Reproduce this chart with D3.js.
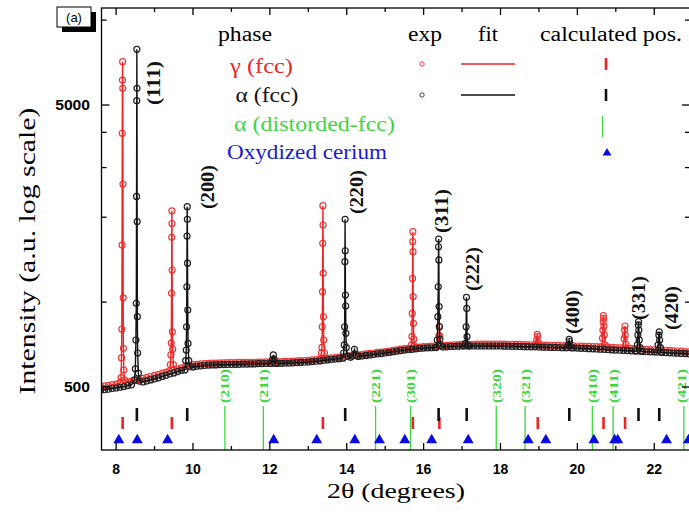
<!DOCTYPE html>
<html><head><meta charset="utf-8">
<script src="https://cdn.jsdelivr.net/npm/d3@7"></script>
<style>body{margin:0;background:#fff}svg{display:block}</style>
</head><body>
<svg id="c" width="689" height="516"></svg>
<script>
// ---------------- DATA ----------------
const bgStart = 7.6, bgStep = 0.1;
// background (exp) intensity, alpha (fcc) phase, 7.6 .. 22.9 deg
const bgAlpha = [487,489,491,494,
 496,499,502,506,509, 512,516,521,525,530, 534,539,545,550,556, 561,567,573,578,584,
 589,592,594,596,598, 599,599,600,600,601, 601,602,602,603,603, 604,604,605,605,606,
 606,606,607,607,608, 608,609,610,611,612, 613,615,617,619,622, 624,626,628,630,632,
 634,637,639,642,644, 647,650,652,655,657, 660,663,666,670,673, 676,678,680,683,685,
 687,688,689,690,692, 693,694,696,697,698, 699,699,699,699,699, 699,699,699,699,699,
 699,698,698,697,697, 696,695,695,694,694, 693,692,692,691,691, 690,689,689,688,688,
 687,686,685,684,683, 682,681,680,678,677, 676,675,674,673,672, 671,670,668,667,666,
 665,664,663,662,661, 660,659,658,657,655];
// background (exp) intensity, gamma (fcc) phase
const bgGamma = [503,505,507,510,
 512,515,518,522,525, 528,532,537,541,546, 550,555,560,565,570, 575,580,585,590,595,
 600,602,604,605,607, 608,608,609,609,610, 610,610,611,611,612, 612,612,613,613,614,
 614,614,615,615,616, 617,618,619,620,621, 622,624,626,628,630, 632,634,636,638,640,
 642,645,647,650,652, 655,658,660,663,665, 668,671,674,678,681, 684,686,688,691,693,
 695,696,698,699,701, 702,703,704,706,707, 708,708,709,709,710, 710,710,710,710,710,
 710,710,709,709,708, 708,707,707,706,706, 705,704,704,703,703, 702,701,701,700,700,
 699,698,697,697,696, 695,694,693,692,691, 690,689,688,686,685, 684,683,682,680,679,
 678,677,676,675,674, 672,671,670,668,666];
// Bragg peaks: [2theta, intensity]
const peaksAlpha = [
 [[8.48,530],[8.50,580],[8.515,734],[8.525,991],[8.532,2370],[8.537,5180],[8.540,7880],[8.543,5730],[8.548,1930],[8.553,888],[8.56,660],[8.58,560],[8.60,525]],
 [[9.79,575],[9.81,620],[9.825,676],[9.833,818],[9.840,1134],[9.845,1715],[9.850,2180],[9.854,1966],[9.858,1374],[9.864,937],[9.872,714],[9.89,620],[9.91,590]],
 [[12.04,606],[12.07,625],[12.09,650],[12.11,628],[12.14,607]],
 [[13.90,633],[13.92,660],[13.935,705],[13.945,818],[13.952,1391],[13.957,1966],[13.961,1521],[13.966,1060],[13.972,969],[13.978,775],[13.99,690],[14.02,645]],
 [[14.15,645],[14.20,680],[14.25,650]],
 [[16.33,690],[16.355,734],[16.37,888],[16.38,1134],[16.387,1572],[16.392,1674],[16.397,1411],[16.403,964],[16.41,818],[16.425,740],[16.45,700]],
 [[17.07,699],[17.09,714],[17.105,818],[17.115,1040],[17.122,950],[17.13,755],[17.15,705],[17.17,699]],
 [[19.74,690],[19.77,705],[19.785,738],[19.795,725],[19.81,700],[19.84,688]],
 [[21.54,671],[21.56,705],[21.575,764],[21.585,830],[21.592,852],[21.60,796],[21.61,734],[21.63,690],[21.65,670]],
 [[22.08,665],[22.10,705],[22.12,764],[22.13,785],[22.14,734],[22.16,690],[22.18,664]]
];
const peaksGamma = [
 [[8.11,520],[8.13,540],[8.14,634],[8.148,803],[8.155,1594],[8.160,3970],[8.165,6130],[8.170,7120],[8.174,5730],[8.178,2624],[8.184,1036],[8.19,686],[8.20,574],[8.22,530]],
 [[9.39,570],[9.41,600],[9.425,650],[9.435,716],[9.442,1075],[9.447,1698],[9.450,2107],[9.454,1900],[9.458,1300],[9.464,785],[9.472,680],[9.49,600],[9.51,578]],
 [[13.32,630],[13.34,660],[13.355,691],[13.363,818],[13.37,1089],[13.375,1617],[13.38,2198],[13.384,1877],[13.388,1265],[13.394,888],[13.40,734],[13.42,660],[13.44,632]],
 [[15.66,686],[15.68,705],[15.695,755],[15.705,912],[15.712,1214],[15.717,1638],[15.72,1777],[15.724,1510],[15.729,1046],[15.735,841],[15.745,740],[15.76,700],[15.78,688]],
 [[16.37,700],[16.40,760],[16.41,820],[16.42,760],[16.45,702]],
 [[18.91,706],[18.94,734],[18.955,769],[18.965,755],[18.98,720],[19.01,705]],
 [[20.63,694],[20.655,745],[20.665,796],[20.672,852],[20.678,895],[20.684,876],[20.69,823],[20.70,764],[20.72,705],[20.74,693]],
 [[21.19,688],[21.215,742],[21.228,796],[21.238,823],[21.245,764],[21.26,710],[21.29,687]]
];
// calculated positions
const gammaPos = [8.17,9.45,13.38,15.72,16.41,18.97,20.68,21.24];
const alphaPos = [8.54,9.85,13.96,16.39,17.12,19.79,21.59,22.13];
const distPos = [10.83,11.83,14.75,15.66,17.89,18.64,20.39,20.93,22.77];
const distLabels = ["(210)","(211)","(221)","(301)","(320)","(321)","(410)","(411)","(421)"];
const ceriumPos = [8.07,8.55,9.34,12.10,13.22,14.21,14.85,15.51,16.21,17.16,18.72,19.18,20.43,20.97,21.05,22.32,22.89];
// alpha (fcc) reflection labels, anchored in data space [2theta, intensity]
const alphaLabels = ["(111)","(200)","(220)","(311)","(222)","(400)","(331)","(420)"];
const alphaLabelAt = [[8.99,5983],[10.39,2560],[14.27,2456],[16.48,2104],[17.27,1310],[19.875,922],[21.605,1034],[22.45,953]];
// axes
const xMajor = [8,10,12,14,16,18,20,22];
const xMinor = [9,11,13,15,17,19,21];
const yMajor = [500,5000];
const yMinor = [1000,2000,3000,4000,10000];
const legendPhases = ["γ (fcc)","α (fcc)","α (distorded-fcc)","Oxydized cerium"];
const legendHeads = ["phase","exp","fit","calculated pos."];

// ---------------- STYLE ----------------
const RED = "#ec2424", BLACK = "#111", GREEN = "#3fd63f", BLUE = "#1a1ad0";
const svg = d3.select("#c");
const L = 101.5, R = 690, T = 8, B = 450;
const x = d3.scaleLinear().domain([7.62, 22.93]).range([L, R]);
const y = d3.scaleLog().domain([299, 11040]).range([B, T]);

svg.append("defs").append("clipPath").attr("id","clip")
  .append("rect").attr("x",L).attr("y",T).attr("width",R-L).attr("height",B-T);

function series(bg, peaks) {
  const spans = peaks.map(p => [p[0][0], p[p.length-1][0]]);
  const pts = bg.map((v,i) => [bgStart + i*bgStep, v])
    .filter(d => !spans.some(s => d[0] >= s[0] && d[0] <= s[1]));
  peaks.forEach(p => p.forEach(d => pts.push(d)));
  pts.sort((a,b) => a[0]-b[0]);
  return pts;
}
const gamma = series(bgGamma, peaksGamma);
const alpha = series(bgAlpha, peaksAlpha);

const plot = svg.append("g").attr("clip-path","url(#clip)");
const line = d3.line().x(d => x(d[0])).y(d => y(d[1]));
function drawSeries(data, col, circCol) {
  plot.append("g").selectAll("circle").data(data).join("circle")
    .attr("cx", d => x(d[0])).attr("cy", d => y(d[1])).attr("r", 3)
    .attr("fill","none").attr("stroke", circCol).attr("stroke-width", 1.2);
  plot.append("path").datum(data).attr("d", line)
    .attr("fill","none").attr("stroke", col).attr("stroke-width", 1.4);
}
drawSeries(gamma, RED, "#f03a3a");
drawSeries(alpha, BLACK, "#222");

// calculated positions
plot.append("g").selectAll("line").data(gammaPos).join("line")
  .attr("x1", d => x(d)).attr("x2", d => x(d)).attr("y1", 417).attr("y2", 429)
  .attr("stroke", RED).attr("stroke-width", 2.6);
plot.append("g").selectAll("line").data(alphaPos).join("line")
  .attr("x1", d => x(d)).attr("x2", d => x(d)).attr("y1", 408).attr("y2", 421)
  .attr("stroke", BLACK).attr("stroke-width", 2.6);
plot.append("g").selectAll("line").data(distPos).join("line")
  .attr("x1", d => x(d)).attr("x2", d => x(d)).attr("y1", 406).attr("y2", B)
  .attr("stroke", GREEN).attr("stroke-width", 1.3);
plot.append("g").selectAll("text").data(distPos).join("text")
  .attr("transform", d => `translate(${Math.min(x(d), 681)},386) rotate(-90)`)
  .attr("dy","0.35em").attr("text-anchor","middle")
  .attr("font-family","'Liberation Serif',serif").attr("font-weight","bold")
  .attr("font-size",13).attr("fill",GREEN).attr("textLength",34).attr("lengthAdjust","spacingAndGlyphs")
  .text((d,i) => distLabels[i]);
const tri = d3.symbol().type(d3.symbolTriangle).size(52);
plot.append("g").selectAll("path").data(ceriumPos).join("path")
  .attr("d", tri).attr("transform", d => `translate(${x(d)},440)`).attr("fill","#0b0be0");

// alpha labels
plot.append("g").selectAll("text").data(alphaLabels).join("text")
  .attr("transform", (d,i) => `translate(${x(alphaLabelAt[i][0])},${y(alphaLabelAt[i][1])}) rotate(-90)`)
  .attr("dy","0.35em").attr("text-anchor","middle")
  .attr("font-family","'Liberation Serif',serif").attr("font-weight","bold")
  .attr("font-size",18).attr("fill",BLACK).attr("textLength",44).attr("lengthAdjust","spacingAndGlyphs")
  .text(d => d);

// ---------------- AXES ----------------
const ax = svg.append("g").attr("stroke","#000").attr("stroke-width",1.3).attr("fill","none");
ax.append("rect").attr("x",L).attr("y",T).attr("width",R-L).attr("height",B-T);
function xTicks(vals, len) {
  vals.forEach(v => {
    ax.append("line").attr("x1",x(v)).attr("x2",x(v)).attr("y1",B).attr("y2",B-len);
    ax.append("line").attr("x1",x(v)).attr("x2",x(v)).attr("y1",T).attr("y2",T+len);
  });
}
xTicks(xMajor, 7); xTicks(xMinor, 4);
function yTicks(vals, len) {
  vals.forEach(v => {
    ax.append("line").attr("x1",L).attr("x2",L+len).attr("y1",y(v)).attr("y2",y(v));
    ax.append("line").attr("x1",R).attr("x2",R-len).attr("y1",y(v)).attr("y2",y(v));
  });
}
yTicks(yMajor, 8); yTicks(yMinor, 5);

svg.append("g").selectAll("text").data(xMajor).join("text")
  .attr("x", d => x(d)).attr("y", 474).attr("text-anchor","middle")
  .attr("font-family","'Liberation Sans',Arial,sans-serif").attr("font-weight","bold")
  .attr("font-size",14).text(d => d);
svg.append("g").selectAll("text").data(yMajor).join("text")
  .attr("x", 90).attr("y", d => y(d)).attr("dy","0.36em").attr("text-anchor","end")
  .attr("font-family","'Liberation Sans',Arial,sans-serif").attr("font-weight","bold")
  .attr("font-size",14).attr("textLength", d => String(d).length * 8.7).attr("lengthAdjust","spacingAndGlyphs")
  .text(d => d);

const serif = "'Liberation Serif','Times New Roman',serif";
svg.append("text").attr("x",396).attr("y",498).attr("text-anchor","middle")
  .attr("font-family",serif).attr("font-size",20).attr("textLength",138).attr("lengthAdjust","spacingAndGlyphs")
  .text("2θ (degrees)");
svg.append("text").attr("transform","translate(35,251) rotate(-90)").attr("text-anchor","middle")
  .attr("font-family",serif).attr("font-size",23).attr("textLength",287).attr("lengthAdjust","spacingAndGlyphs")
  .text("Intensity (a.u. log scale)");

// (a) label
svg.append("rect").attr("x",62).attr("y",12).attr("width",34).attr("height",20).attr("fill","#000");
svg.append("rect").attr("x",57).attr("y",7).attr("width",34).attr("height",20).attr("fill","#fff").attr("stroke","#000").attr("stroke-width",1);
svg.append("text").attr("x",74).attr("y",22).attr("text-anchor","middle")
  .attr("font-family","'Liberation Sans',Arial,sans-serif").attr("font-size",13).text("(a)");

// ---------------- LEGEND ----------------
const lg = svg.append("g").attr("font-family",serif).attr("font-size",20);
const headX = [218,408,478,540], headLen = [54,34,20,142];
lg.selectAll("text.h").data(legendHeads).join("text").attr("class","h")
  .attr("x",(d,i)=>headX[i]).attr("y",41).attr("fill","#000")
  .attr("textLength",(d,i)=>headLen[i]).attr("lengthAdjust","spacingAndGlyphs").text(d=>d);
const rowY = [73,102,131,159], rowX = [230,235.5,234,227], rowLen = [63,63,161,160];
const rowCol = [RED, BLACK, GREEN, BLUE];
lg.selectAll("text.p").data(legendPhases).join("text").attr("class","p")
  .attr("x",(d,i)=>rowX[i]).attr("y",(d,i)=>rowY[i]).attr("fill",(d,i)=>rowCol[i])
  .attr("textLength",(d,i)=>rowLen[i]).attr("lengthAdjust","spacingAndGlyphs").text(d=>d);
const mY = [64,95,127,153];
[0,1].forEach(i => {
  const c = i ? "#333" : RED;
  lg.append("circle").attr("cx",422).attr("cy",mY[i]).attr("r",2.2).attr("fill","none").attr("stroke",c).attr("stroke-width",0.9);
  lg.append("line").attr("x1",461).attr("x2",515).attr("y1",mY[i]).attr("y2",mY[i]).attr("stroke",i?BLACK:RED).attr("stroke-width",1.3);
  lg.append("line").attr("x1",606).attr("x2",606).attr("y1",mY[i]-6).attr("y2",mY[i]+6).attr("stroke",i?BLACK:RED).attr("stroke-width",2.6);
});
lg.append("line").attr("x1",602.5).attr("x2",602.5).attr("y1",116).attr("y2",137).attr("stroke",GREEN).attr("stroke-width",1.3);
lg.append("path").attr("d",d3.symbol().type(d3.symbolTriangle).size(34)).attr("transform","translate(607,153)").attr("fill","#0b0be0");
</script>
</body></html>
